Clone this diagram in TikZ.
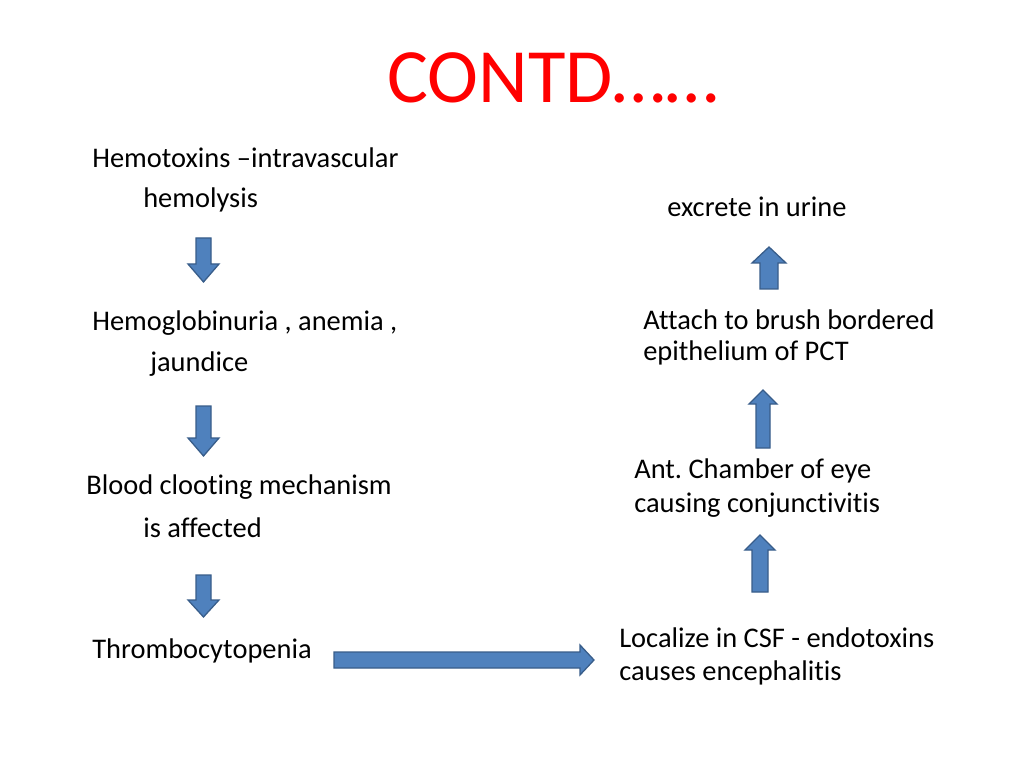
\documentclass[tikz,border=0pt]{standalone}
\usepackage{fontspec}
\setmainfont{Carlito}[Ligatures={NoCommon}]
\frenchspacing
\definecolor{arrowfill}{HTML}{4F81BD}
\definecolor{arrowdraw}{HTML}{385D8A}
\definecolor{titlered}{HTML}{FF0000}
\begin{document}
\begin{tikzpicture}[x=0.703125pt,y=-0.703125pt,
  txt/.style={anchor=west,inner sep=0pt,font=\fontsize{20}{24}\selectfont},
  title/.style={anchor=center,inner sep=0pt,text=titlered,font=\fontsize{54}{60}\selectfont},
  blk/.style={fill=arrowfill,draw=arrowdraw,line width=0.9pt,line join=miter}]
\useasboundingbox[fill=white] (0,0) rectangle (1024,768);
\node[title] (t) at (553,78) {CONTD……};
% left column
\node[txt] (a1) at (92,158) {Hemotoxins –intravascular};
\node[txt] (a2) at (143,200) {hemolysis};
\node[txt] (b1) at (92,323) {Hemoglobinuria , anemia ,};
\node[txt] (b2) at (150,364) {jaundice};
\node[txt] (c1) at (86,487) {Blood clooting mechanism};
\node[txt] (c2) at (143,528) {is affected};
\node[txt] (d1) at (92,651) {Thrombocytopenia};
% right column
\node[txt] (e1) at (619,638) {Localize in CSF - endotoxins};
\node[txt] (e2) at (619,673) {causes encephalitis};
\node[txt] (f1) at (634,471) {Ant. Chamber of eye};
\node[txt] (f2) at (634,505) {causing conjunctivitis};
\node[txt] (g1) at (643,320) {Attach to brush bordered};
\node[txt] (g2) at (643,353) {epithelium of PCT};
\node[txt] (h1) at (667,207) {excrete in urine};
% down arrows (left)
\draw[blk] (196,238) -- (211,238) -- (211,264) -- (219,264) -- (203.5,282) -- (188,264) -- (196,264) -- cycle;
\draw[blk] (196,406) -- (211,406) -- (211,438) -- (219,438) -- (203.5,456) -- (188,438) -- (196,438) -- cycle;
\draw[blk] (196,575) -- (211,575) -- (211,600) -- (219,600) -- (203.5,617) -- (188,600) -- (196,600) -- cycle;
% horizontal arrow
\draw[blk] (334,652) -- (580,652) -- (580,645) -- (594,660) -- (580,675) -- (580,668) -- (334,668) -- cycle;
% up arrows (right)
\draw[blk] (752,592) -- (768,592) -- (768,550) -- (775,550) -- (760,535) -- (745,550) -- (752,550) -- cycle;
\draw[blk] (756,448) -- (770,448) -- (770,404) -- (777,404) -- (763,390) -- (749,404) -- (756,404) -- cycle;
\draw[blk] (760,289) -- (778,289) -- (778,263) -- (786,263) -- (769,247) -- (752,263) -- (760,263) -- cycle;
\end{tikzpicture}
\end{document}
